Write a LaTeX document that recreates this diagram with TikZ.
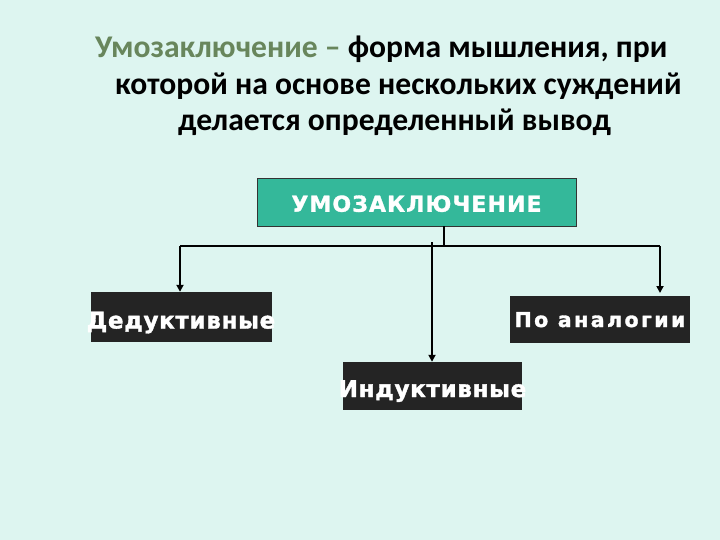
\documentclass[tikz,border=0pt]{standalone}
\usepackage{fontspec}
\setmainfont{Carlito}
\newfontfamily\boxfontA[LetterSpace=3,BoldFeatures={FakeBold=1.6}]{DejaVu Sans}
\newfontfamily\boxfontB[LetterSpace=12,BoldFeatures={FakeBold=1.6}]{DejaVu Sans}
\newfontfamily\boxfontC[LetterSpace=5,BoldFeatures={FakeBold=1.4}]{DejaVu Sans}
\usetikzlibrary{arrows.meta}
\definecolor{bgc}{RGB}{221,245,240}
\definecolor{greent}{RGB}{104,134,92}
\definecolor{tealbox}{RGB}{52,184,154}
\definecolor{darkbox}{RGB}{36,36,36}
\tikzset{
  titleline/.style={anchor=base west, inner sep=0pt, font=\fontsize{31.6}{36}\selectfont\bfseries},
  headbox/.style={draw=black!80, line width=0.8pt, fill=tealbox, text=white, minimum width=319pt, minimum height=48pt, inner sep=0pt, text height=19.5pt, text depth=0pt, font=\boxfontC\bfseries\fontsize{22}{26}\selectfont},
  kindbox/.style={fill=darkbox, text=white, inner sep=0pt, text depth=0pt, font=\boxfontA\bfseries\fontsize{23}{26}\selectfont},
  kindboxwide/.style={kindbox, font=\boxfontB\bfseries\fontsize{20.5}{24}\selectfont},
  conn/.style={line width=1.8pt, black},
  arr/.style={conn, -{Triangle[width=7pt,length=7pt]}}
}
\begin{document}
\begin{tikzpicture}[x=1pt,y=-1pt]
\fill[bgc] (0,0) rectangle (720,540);
\useasboundingbox (0,0) rectangle (720,540);
\node[titleline] (t1) at (95,58) {\textcolor{greent}{Умозаключение –} форма мышления, при};
\node[titleline] (t2) at (115,95) {которой на основе нескольких суждений};
\node[titleline] (t3) at (178,131) {делается определенный вывод};

\node[headbox] (head) at (416.5,202) {УМОЗАКЛЮЧЕНИЕ};
\node[kindbox, text height=23pt, minimum width=181pt, minimum height=50pt] (ded) at (181,317) {\makebox[0pt]{Дедуктивные}};
\node[kindboxwide, text height=15pt, minimum width=180pt, minimum height=47pt] (ana) at (600,319.5) {\makebox[0pt]{По аналогии}};
\node[kindbox, text height=22pt, minimum width=179pt, minimum height=48pt] (ind) at (432.5,386) {\makebox[0pt]{Индуктивные}};

\coordinate (j) at (444,246);
\coordinate (bl) at (180,246);
\coordinate (br) at (660,246);
\coordinate (m) at (432,242);
\coordinate (rend) at (660,293);
\draw[conn] (head.south -| j) -- (j);
\draw[conn] (bl) -- (br);
\draw[arr] (bl) -- (ded.north -| bl);
\draw[arr] (br) -- (rend);
\draw[arr] (m) -- (ind.north -| m);
\end{tikzpicture}
\end{document}
